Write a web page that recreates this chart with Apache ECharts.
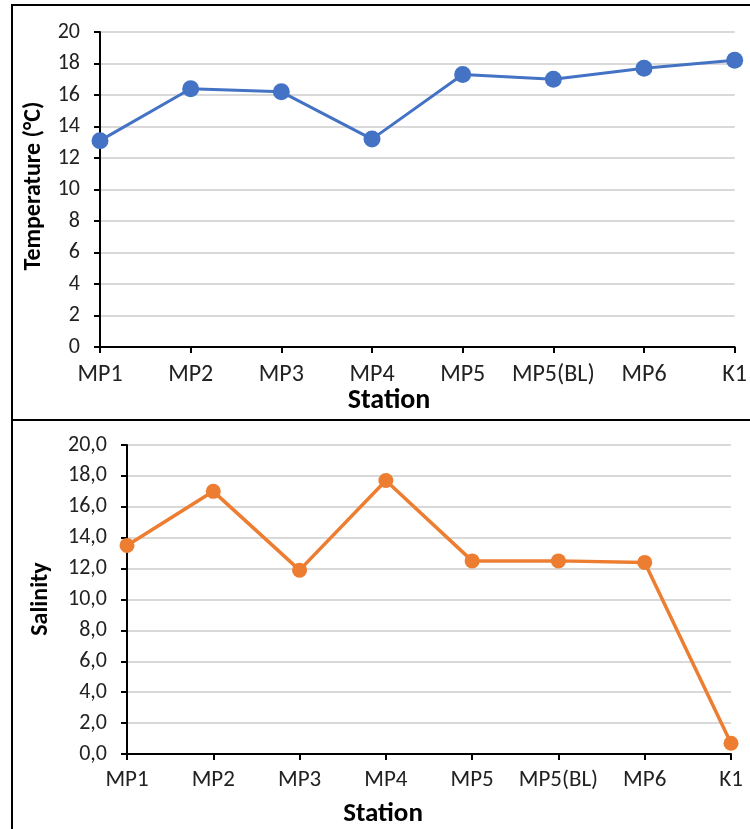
<!DOCTYPE html>
<html>
<head>
<meta charset="utf-8">
<script src="https://cdn.jsdelivr.net/npm/echarts@6/dist/echarts.min.js"></script>
<style>
html,body{margin:0;padding:0;background:#fff;}
#c{width:750px;height:829px;}
</style>
</head>
<body>
<div id="c"></div>
<script>
const stations = ['MP1','MP2','MP3','MP4','MP5','MP5(BL)','MP6','K1'];
const temperature = [13.1, 16.4, 16.2, 13.2, 17.3, 17.0, 17.7, 18.2];
const salinity = [13.5, 17.0, 11.9, 17.7, 12.5, 12.5, 12.4, 0.7];
const tempTicks = [0, 2, 4, 6, 8, 10, 12, 14, 16, 18, 20];
const salTicks = [0, 2, 4, 6, 8, 10, 12, 14, 16, 18, 20];

const FONT = 'Carlito, Calibri, Lato, "Open Sans", sans-serif';
const chart = echarts.init(document.getElementById('c'));

function xAx(gi, margin, size){
  return {
    type:'category', gridIndex:gi, data:stations, boundaryGap:false,
    axisLine:{lineStyle:{color:'#000',width:2}},
    axisTick:{show:true,length:6,lineStyle:{color:'#000',width:2}},
    axisLabel:{color:'#222',fontSize:size,fontFamily:FONT,margin:margin,interval:0},
    splitLine:{show:false}
  };
}
function yAx(gi, fmt, size){
  return {
    type:'value', gridIndex:gi, min:0, max:20, interval:2,
    axisLine:{show:true,lineStyle:{color:'#000',width:2}},
    axisTick:{show:true,length:6,lineStyle:{color:'#000',width:2}},
    axisLabel:{color:'#222',fontSize:size,fontFamily:FONT,margin:20,formatter:fmt},
    splitLine:{show:true,lineStyle:{color:'#d9d9d9',width:2}}
  };
}

chart.setOption({
  animation:false,
  backgroundColor:'#fff',
  grid:[
    {left:100, top:32, width:638, height:315},
    {left:127, top:445, width:604, height:309}
  ],
  xAxis:[xAx(0,16,24), xAx(1,15,23)],
  yAxis:[
    yAx(0, v => tempTicks.includes(v) ? String(v) : '', 22),
    yAx(1, v => salTicks.includes(v) ? v.toFixed(1).replace('.', ',') : '', 22)
  ],
  series:[
    {type:'line', xAxisIndex:0, yAxisIndex:0, data:temperature,
     symbol:'circle', symbolSize:17, lineStyle:{color:'#4472C4',width:3},
     itemStyle:{color:'#4472C4'}},
    {type:'line', xAxisIndex:1, yAxisIndex:1, data:salinity,
     symbol:'circle', symbolSize:15, lineStyle:{color:'#ED7D31',width:3.5},
     itemStyle:{color:'#ED7D31'}}
  ],
  graphic:[
    {type:'rect', shape:{x:12,y:5,width:800,height:415}, style:{fill:'none',stroke:'#000',lineWidth:2}, z:0},
    {type:'rect', shape:{x:12,y:420,width:800,height:500}, style:{fill:'none',stroke:'#000',lineWidth:2}, z:0},
    {type:'text', x:389, y:401, style:{text:'Station', font:'bold 28px '+FONT, fill:'#000', align:'center', verticalAlign:'middle'}},
    {type:'text', x:383, y:814, style:{text:'Station', font:'bold 27px '+FONT, fill:'#000', align:'center', verticalAlign:'middle'}},
    {type:'text', x:34, y:186, rotation:Math.PI/2, style:{text:'Temperature (°C)', font:'bold 24px '+FONT, fill:'#000', align:'center', verticalAlign:'middle'}},
    {type:'text', x:41, y:599, rotation:Math.PI/2, style:{text:'Salinity', font:'bold 24px '+FONT, fill:'#000', align:'center', verticalAlign:'middle'}}
  ]
});
</script>
</body>
</html>
